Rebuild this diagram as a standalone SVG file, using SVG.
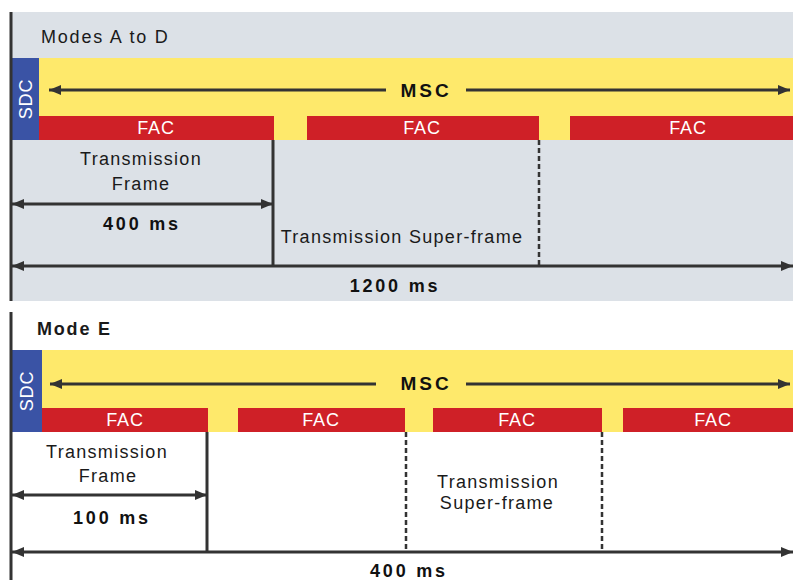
<svg xmlns="http://www.w3.org/2000/svg" width="793" height="580" viewBox="0 0 793 580">
<style>
.t{font-family:"Liberation Sans",Arial,sans-serif;fill:#1a1a1a;font-size:18px;letter-spacing:1.3px}
.b{font-weight:bold;fill:#111;letter-spacing:2.8px}
.m{font-weight:bold;fill:#111;font-size:19px;letter-spacing:3px}
.w{fill:#fff;font-size:18px;text-anchor:middle;letter-spacing:0.8px}
.ln{stroke:#333;stroke-width:3;fill:none}
.ds{stroke:#333;stroke-width:2.5;fill:none;stroke-dasharray:5,3}
.y{fill:#fee96b}
.r{fill:#cf2027}
.s{fill:#3a53a5}
</style>
<defs>
<marker id="ah" viewBox="0 0 12 10" refX="12" refY="5" markerWidth="12" markerHeight="10" markerUnits="userSpaceOnUse" orient="auto-start-reverse">
<path d="M0,0 L12,5 L0,10 z" fill="#333"/>
</marker>
</defs>
<rect width="793" height="580" fill="#fff"/>
<g id="panel-top">
<rect x="12" y="12" width="781" height="289" fill="#dce1e7"/>
<text class="t" x="41" y="43" font-size="19" style="letter-spacing:1.8px">Modes A to D</text>
<rect class="y" x="12" y="58" width="781" height="82"/>
</g>
<g id="sdc-top">
<rect class="s" x="12" y="58" width="27" height="82"/>
<text class="t w" transform="translate(32,99) rotate(-90)">SDC</text>
</g>
<g id="fac-top-1"><rect class="r" x="39" y="116" width="235" height="24"/><text class="t w" x="156" y="134">FAC</text></g>
<g id="fac-top-2"><rect class="r" x="307" y="116" width="232" height="24"/><text class="t w" x="422" y="134">FAC</text></g>
<g id="fac-top-3"><rect class="r" x="570" y="116" width="223" height="24"/><text class="t w" x="688" y="134">FAC</text></g>
<text class="t m" x="426" y="97" text-anchor="middle">MSC</text>
<text class="t" x="141" y="165" text-anchor="middle">Transmission</text>
<text class="t" x="141" y="190" text-anchor="middle">Frame</text>
<text class="t b" x="142" y="230" text-anchor="middle">400 ms</text>
<text class="t" x="402" y="243" text-anchor="middle">Transmission Super-frame</text>
<text class="t b" x="395" y="292" text-anchor="middle">1200 ms</text>

<g id="panel-bottom">
<text class="t" x="37" y="335" font-weight="bold" fill="#111" style="letter-spacing:1.8px">Mode E</text>
<rect class="y" x="12" y="350" width="781" height="82"/>
</g>
<g id="sdc-bottom">
<rect class="s" x="12" y="350" width="30" height="82"/>
<text class="t w" transform="translate(33,391) rotate(-90)">SDC</text>
</g>
<g id="fac-bot-1"><rect class="r" x="42" y="408" width="166" height="24"/><text class="t w" x="125" y="426">FAC</text></g>
<g id="fac-bot-2"><rect class="r" x="238" y="408" width="167" height="24"/><text class="t w" x="321" y="426">FAC</text></g>
<g id="fac-bot-3"><rect class="r" x="433" y="408" width="169" height="24"/><text class="t w" x="517" y="426">FAC</text></g>
<g id="fac-bot-4"><rect class="r" x="623" y="408" width="170" height="24"/><text class="t w" x="713" y="426">FAC</text></g>
<text class="t m" x="426" y="390" text-anchor="middle">MSC</text>
<text class="t" x="107" y="458" text-anchor="middle">Transmission</text>
<text class="t" x="108" y="482" text-anchor="middle">Frame</text>
<text class="t b" x="112" y="524" text-anchor="middle">100 ms</text>
<text class="t" x="498" y="488" text-anchor="middle">Transmission</text>
<text class="t" x="497" y="509" text-anchor="middle">Super-frame</text>
<text class="t b" x="409" y="577" text-anchor="middle">400 ms</text>

<g id="connectors">
<line class="ln" x1="11" y1="12" x2="11" y2="301"/>
<line class="ln" x1="11" y1="312" x2="11" y2="580"/>
<line class="ln" x1="386" y1="90" x2="49" y2="90" marker-end="url(#ah)"/>
<line class="ln" x1="466" y1="90" x2="790" y2="90" marker-end="url(#ah)"/>
<line class="ln" x1="273" y1="140" x2="273" y2="266"/>
<line class="ds" x1="539" y1="140" x2="539" y2="266"/>
<line class="ln" x1="12" y1="204" x2="273" y2="204" marker-start="url(#ah)" marker-end="url(#ah)"/>
<line class="ln" x1="12" y1="266" x2="793" y2="266" marker-start="url(#ah)" marker-end="url(#ah)"/>
<line class="ln" x1="376" y1="384" x2="50" y2="384" marker-end="url(#ah)"/>
<line class="ln" x1="466" y1="384" x2="790" y2="384" marker-end="url(#ah)"/>
<line class="ln" x1="207" y1="432" x2="207" y2="552"/>
<line class="ds" x1="406" y1="432" x2="406" y2="552"/>
<line class="ds" x1="602" y1="432" x2="602" y2="552"/>
<line class="ln" x1="12" y1="495" x2="207" y2="495" marker-start="url(#ah)" marker-end="url(#ah)"/>
<line class="ln" x1="12" y1="552" x2="793" y2="552" marker-start="url(#ah)" marker-end="url(#ah)"/>
</g>
</svg>
